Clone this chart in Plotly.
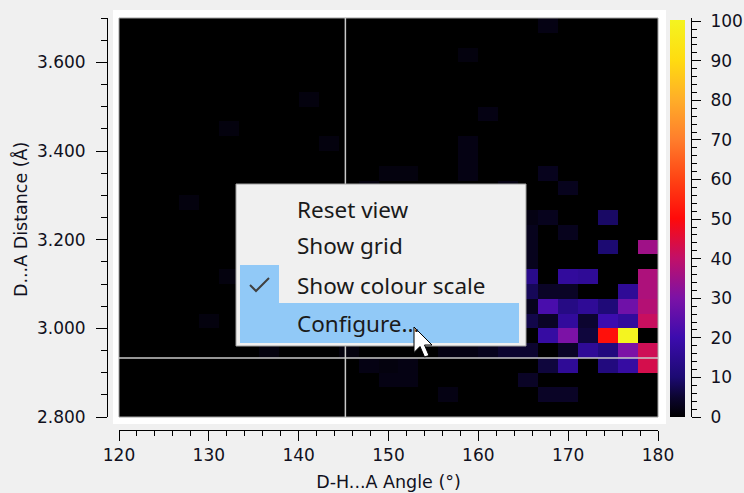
import numpy as np
import plotly.graph_objects as go

W, H = 744, 493

# histogram bins (27 x 27)
angle_edges = np.linspace(120, 180, 28)     # D-H...A angle, degrees
dist_edges = np.linspace(2.8, 3.7, 28)      # D...A distance, Angstrom

# non-empty cells: angle bin index, distance bin index, count
cell_angle_bin = [21, 17, 9, 18, 5, 10, 17, 17, 13, 14, 17, 21, 12, 19, 22, 3,
                  20, 21, 24, 20, 22, 20, 24, 26, 20,
                  5, 20, 22, 23, 26,
                  20, 21, 22, 25, 26,
                  20, 21, 22, 23, 24, 25, 26,
                  4, 20, 21, 22, 23, 24, 25, 26,
                  21, 22, 23, 24, 25,
                  7, 11, 16, 17, 18, 19, 20, 22, 23, 24, 25, 26,
                  12, 13, 14, 21, 22, 24, 25, 26,
                  13, 14, 20,
                  16, 21, 22]
cell_dist_bin = [26, 24, 21, 20, 19, 18, 18, 17, 16, 16, 16, 16, 15, 15, 15, 14,
                 13, 13, 13, 12, 12, 11, 11, 11, 10,
                 9, 9, 9, 9, 9,
                 8, 8, 8, 8, 8,
                 7, 7, 7, 7, 7, 7, 7,
                 6, 6, 6, 6, 6, 6, 6, 6,
                 5, 5, 5, 5, 5,
                 4, 4, 4, 4, 4, 4, 4, 4, 4, 4, 4, 4,
                 3, 3, 3, 3, 3, 3, 3, 3,
                 2, 2, 2,
                 1, 1, 1]
cell_count = [2, 1.5, 1.5, 2, 1.5, 1.5, 2, 2, 1.5, 1.5, 2, 3, 1.5, 2, 3, 1.5,
              2, 3, 9, 3, 3, 3, 10, 35, 3,
              1.5, 14, 17, 16, 37,
              8, 4, 4, 16, 37,
              3, 22, 13, 16, 11, 28, 38,
              1.5, 7, 4, 17, 5, 20, 17, 41,
              18, 30, 6, 51, 100,
              1.5, 1.5, 2, 2, 3, 5, 5, 4, 16, 12, 30, 42,
              2, 1.5, 2, 6, 16, 12, 18, 43,
              2, 2, 4,
              2, 4, 4]

crosshair_angle = 145.2
crosshair_dist = 2.933

menu_items = ["Reset view", "Show grid", "Show colour scale", "Configure..."]

colours = [[0.0, "#000000"], [0.05, "#0c0530"], [0.1, "#1c0a72"], [0.2, "#3c0cae"],
           [0.3, "#7c12a6"], [0.4, "#c21068"], [0.5, "#ff0a0a"], [0.6, "#ff4414"],
           [0.7, "#ff7e2c"], [0.8, "#ffae28"], [0.9, "#ffdc10"], [1.0, "#f4f420"]]

z = np.zeros((27, 27))
for a, d, c in zip(cell_angle_bin, cell_dist_bin, cell_count):
    z[d, a] = c


def px(x):
    return x / W


def py(y):
    return 1 - y / H


TXT = "#101020"
FONT = "DejaVu Sans"
FS = 17

fig = go.Figure()
fig.add_trace(go.Heatmap(
    z=z, x=angle_edges, y=dist_edges,
    colorscale=colours, zmin=0, zmax=100,
    colorbar=dict(x=px(670), xanchor="left", thickness=15, len=(417 - 20) / H,
                  y=py(417), yanchor="bottom", ypad=0, xpad=0, outlinewidth=0,
                  showticklabels=False, ticks=""),
    hoverinfo="skip",
))
# dummy trace carrying the colour-scale tick axis
fig.add_trace(go.Scatter(x=[None], y=[None], yaxis="y2", showlegend=False, hoverinfo="skip"))

axis_common = dict(showline=True, linecolor="#000000", linewidth=1, ticks="outside",
                   tickcolor="#000000", showgrid=False, zeroline=False, automargin=False,
                   tickfont=dict(family=FONT, size=FS, color=TXT))

fig.update_layout(
    template="none",
    width=W, height=H,
    margin=dict(l=0, r=0, t=0, b=0),
    paper_bgcolor="#f0f0f0", plot_bgcolor="#000000",
    showlegend=False,
    font=dict(family=FONT, size=FS, color=TXT),
    xaxis=dict(domain=[px(119), px(658)], range=[120, 180], anchor="free",
               position=py(430), tick0=120, dtick=10, ticklen=10,
               minor=dict(dtick=2, ticklen=5, ticks="outside", tickcolor="#000000"),
               ticklabelstandoff=0,
               title=dict(text="D-H...A Angle (°)", standoff=11,
                          font=dict(family=FONT, size=17.5, color=TXT)),
               **axis_common),
    yaxis=dict(domain=[py(417), py(18)], range=[2.8, 3.7], anchor="free",
               position=px(107), tick0=2.8, dtick=0.2, tickformat=".3f", ticklen=11,
               minor=dict(dtick=0.05, ticklen=6, ticks="outside", tickcolor="#000000"),
               ticklabelstandoff=7,
               **axis_common),
    yaxis2=dict(overlaying="y", anchor="free", position=px(691), side="right",
                range=[0, 100.8], tick0=0, dtick=10, ticklen=9,
                minor=dict(dtick=2, ticklen=5, ticks="outside", tickcolor="#000000"),
                ticklabelstandoff=6, **axis_common),
)

fig.add_annotation(text="D...A Distance (Å)", textangle=-90, x=px(21), y=py(220),
                   xref="paper", yref="paper", xanchor="center", yanchor="middle",
                   showarrow=False, font=dict(family=FONT, size=17.5, color=TXT))

shapes = [
    # white panel behind the plot
    dict(type="rect", xref="paper", yref="paper", x0=px(113), x1=px(666), y0=py(424), y1=py(10),
         fillcolor="#ffffff", line=dict(width=0), layer="below"),
    # plot frame
    dict(type="rect", xref="x domain", yref="y domain", x0=0, x1=1, y0=0, y1=1,
         line=dict(color="#a0a0a0", width=1)),
    # crosshair
    dict(type="line", xref="x", yref="y domain", x0=crosshair_angle, x1=crosshair_angle, y0=0, y1=1,
         line=dict(color="#c8c8c8", width=1.5)),
    dict(type="line", xref="x domain", yref="y", x0=0, x1=1, y0=crosshair_dist, y1=crosshair_dist,
         line=dict(color="#c8c8c8", width=1.5)),
    # context menu
    dict(type="rect", xref="paper", yref="paper", x0=px(236), x1=px(526), y0=py(346), y1=py(184),
         fillcolor="#f0f0f0", line=dict(color="#a0a0a0", width=1)),
    dict(type="rect", xref="paper", yref="paper", x0=px(240), x1=px(279), y0=py(303), y1=py(265),
         fillcolor="#91c9f7", line=dict(width=0)),
    dict(type="rect", xref="paper", yref="paper", x0=px(240), x1=px(519), y0=py(343), y1=py(303),
         fillcolor="#91c9f7", line=dict(width=0)),
    dict(type="path", xref="paper", yref="paper",
         path=f"M {px(250)} {py(285)} L {px(256)} {py(291)} L {px(269)} {py(278)}",
         line=dict(color="#404040", width=2)),
]

# mouse pointer
tip_x, tip_y = 414, 327
arrow = [(0, 0), (0, 25.5), (6, 19.5), (10.5, 30), (15, 28.5), (10.5, 18), (18, 18)]
path = "M " + " L ".join(f"{px(tip_x + ax)} {py(tip_y + ay)}" for ax, ay in arrow) + " Z"
shapes.append(dict(type="path", xref="paper", yref="paper", path=path,
                   fillcolor="#ffffff", line=dict(color="#000000", width=1)))
fig.update_layout(shapes=shapes)

for label, ymid in zip(menu_items, [209, 246, 285, 323]):
    fig.add_annotation(text=label, x=px(295), y=py(ymid), xref="paper", yref="paper",
                       xanchor="left", yanchor="middle", showarrow=False,
                       font=dict(family="Noto Sans", size=22.5, color="#1a1a1a"))

# page body margin would otherwise shift the 744x493 figure by 8px
fig.write_html("out.html", config={"displayModeBar": False},
               post_script="document.body.style.margin='0px';"
                           "document.body.style.background='#f0f0f0';")
